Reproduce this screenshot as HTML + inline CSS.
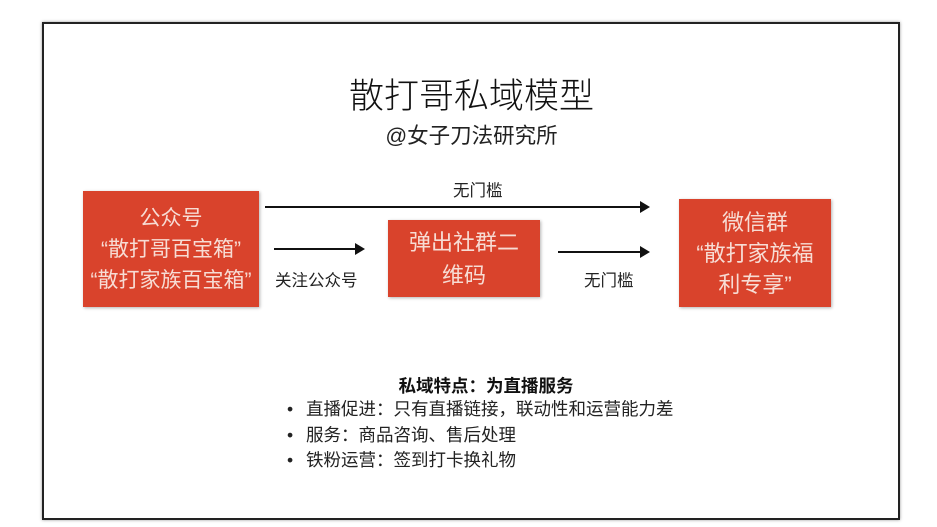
<!DOCTYPE html>
<html><head><meta charset="utf-8"><style>
body{margin:0;width:937px;height:527px;background:#fff;position:relative;overflow:hidden;font-family:"Liberation Sans","Noto Sans CJK SC",sans-serif;}
.a{position:absolute;}
.frame{left:42px;top:22px;width:854px;height:494px;border:2px solid #222;box-shadow:0 0 3px rgba(0,0,0,.4);}
.box{position:absolute;background:#d9432c;color:#f7dcd4;font-size:21px;line-height:31px;text-align:center;display:flex;align-items:center;justify-content:center;box-shadow:1px 1px 3px rgba(0,0,0,.3);white-space:nowrap;}
.line{position:absolute;height:2px;background:#111;}
.line:after{content:"";position:absolute;right:-2px;top:-5px;border-left:10px solid #111;border-top:6px solid transparent;border-bottom:6px solid transparent;}
.lbl{position:absolute;font-size:16.5px;color:#222;white-space:nowrap;}
</style></head><body>
<div class="a frame"></div>
<div class="a" style="left:0;width:943px;top:68px;text-align:center;font-size:35px;color:#111;font-weight:300;">散打哥私域模型</div>
<div class="a" style="left:0;width:943px;top:119px;text-align:center;font-size:21.5px;color:#222;">@女子刀法研究所</div>
<div class="box" style="left:83px;top:191px;width:176px;height:116px;">公众号<br>“散打哥百宝箱”<br>“散打家族百宝箱”</div>
<div class="box" style="left:388px;top:220px;width:152px;height:77px;font-size:22px;line-height:33px;">弹出社群二<br>维码</div>
<div class="box" style="left:679px;top:199px;width:152px;height:108px;font-size:22px;">微信群<br>“散打家族福<br>利专享”</div>
<div class="line" style="left:265px;top:206px;width:383px;"></div>
<div class="lbl" style="left:453px;top:177px;">无门槛</div>
<div class="line" style="left:274px;top:248px;width:89px;"></div>
<div class="lbl" style="left:275px;top:267px;">关注公众号</div>
<div class="line" style="left:558px;top:251px;width:90px;"></div>
<div class="lbl" style="left:584px;top:267px;">无门槛</div>
<div class="a" style="left:0;width:972px;top:373px;text-align:center;font-size:17.5px;font-weight:bold;color:#111;">私域特点：为直播服务</div>
<div class="a" style="left:287px;top:397px;font-size:17.5px;line-height:25.5px;color:#222;white-space:nowrap;">
<span style="display:inline-block;width:19px;">•</span>直播促进：只有直播链接，联动性和运营能力差<br><span style="display:inline-block;width:19px;">•</span>服务：商品咨询、售后处理<br><span style="display:inline-block;width:19px;">•</span>铁粉运营：签到打卡换礼物</div>
</body></html>
